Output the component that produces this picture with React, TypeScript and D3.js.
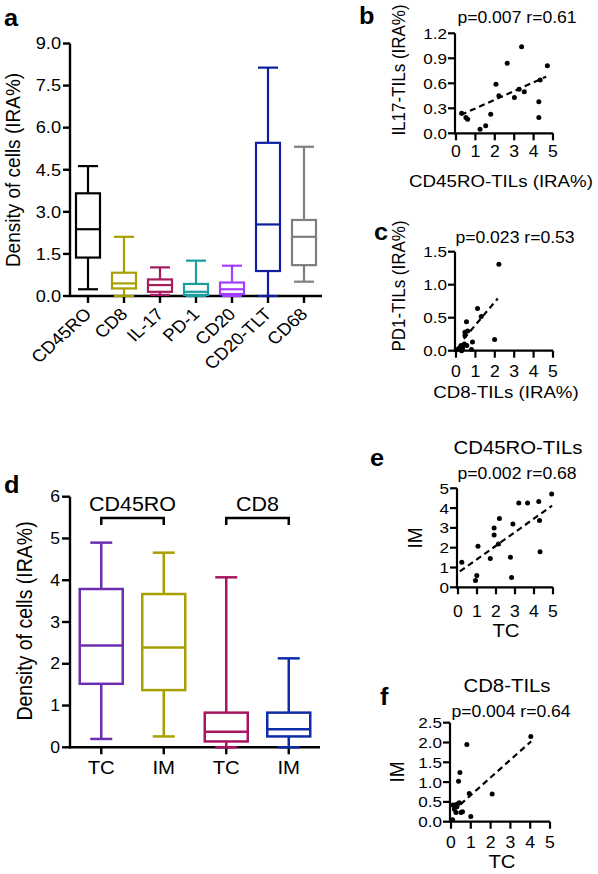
import React from "react";
import * as d3 from "d3";

const FONT = "'Liberation Sans', Arial, Helvetica, sans-serif";
const SX = 1.1;

// ---------- Panel a data ----------
const catsA = ["CD45RO", "CD8", "IL-17", "PD-1", "CD20", "CD20-TLT", "CD68"];
const minA = [0.24, 0, 0.04, 0, 0, 0, 0.51];
const q1A = [1.37, 0.27, 0.15, 0.04, 0.07, 0.89, 1.1];
const medA = [2.38, 0.45, 0.39, 0.15, 0.24, 2.55, 2.11];
const q3A = [3.66, 0.83, 0.59, 0.43, 0.48, 5.46, 2.71];
const maxA = [4.63, 2.11, 1.02, 1.26, 1.08, 8.14, 5.32];
const colorsA = ["#000000", "#a8a000", "#a51c5c", "#1c9e9e", "#a23cff", "#0d1f9e", "#7f7f7f"];
const yTicksA = [0, 1.5, 3, 4.5, 6, 7.5, 9];

// ---------- Panel d data ----------
const catsD = ["TC1", "IM1", "TC2", "IM2"];
const labelsD = ["TC", "IM", "TC", "IM"];
const minD = [0.2, 0.26, 0, 0];
const q1D = [1.52, 1.37, 0.14, 0.26];
const medD = [2.44, 2.39, 0.37, 0.43];
const q3D = [3.79, 3.67, 0.83, 0.83];
const maxD = [4.9, 4.66, 4.07, 2.13];
const colorsD = ["#6b2fb0", "#a8a000", "#a8175e", "#0f2ca8"];
const yTicksD = [0, 1, 2, 3, 4, 5, 6];
const groupsD = ["CD45RO", "CD8"];

// ---------- Scatter data ----------
const xTicksS = [0, 1, 2, 3, 4, 5];

const bX = [0.29, 0.51, 0.6, 1.24, 1.53, 1.79, 2.06, 2.21, 2.64, 3.01, 3.25, 3.38, 3.52, 4.27, 4.27, 4.34, 4.71];
const bY = [0.24, 0.19, 0.17, 0.05, 0.09, 0.23, 0.59, 0.45, 0.84, 0.43, 0.53, 1.04, 0.5, 0.38, 0.19, 0.64, 0.81];
const bTrend = [0.25, 0.22, 4.65, 0.68];
const bYTicks = [0, 0.3, 0.6, 0.9, 1.2];

const cX = [2.21, 1.11, 1.99, 0.54, 1.3, 0.46, 0.46, 0.85, 0.8, 0.26, 0.17, 0.34, 0.08, 0.43, 0.56, 0.29, 0.6];
const cY = [1.31, 0.64, 0.17, 0.44, 0.52, 0.28, 0.23, 0.13, 0.02, 0.08, 0.04, 0.04, 0.02, 0.1, 0.08, 0.0, 0.3];
const cTrend = [0.4, 0.18, 2.15, 0.79];
const cYTicks = [0, 0.5, 1.0, 1.5];

const eX = [0.2, 0.92, 0.99, 1.05, 1.7, 1.9, 1.9, 2.13, 2.18, 2.76, 2.82, 2.89, 3.2, 3.66, 4.25, 4.29, 4.32, 4.93];
const eY = [1.26, 0.34, 0.59, 2.07, 1.46, 3.0, 2.64, 2.19, 3.48, 1.52, 0.5, 3.2, 4.26, 4.26, 4.33, 3.37, 1.8, 4.71];
const eTrend = [0.1, 0.8, 4.95, 4.12];
const eYTicks = [0, 1, 2, 3, 4, 5];

const fX = [4.03, 0.8, 0.45, 0.38, 0.92, 2.08, 1.0, 0.08, 0.25, 0.33, 0.42, 0.17, 0.25, 0.5, 0.58, 0.17, 0.1, 0.3];
const fY = [2.15, 1.95, 1.24, 1.02, 0.71, 0.7, 0.13, 0.05, 0.43, 0.45, 0.48, 0.32, 0.23, 0.23, 0.25, 0.38, 0.42, 0.38];
const fTrend = [0.1, 0.27, 4.05, 2.03];
const fYTicks = [0, 0.5, 1.0, 1.5, 2.0, 2.5];

function Txt({ x, y, size, anchor = "middle", rot = 0, bold = false, fill = "#000", mid = false, children }: any) {
  return (
    <text
      transform={`translate(${x},${y}) scale(${SX},1) rotate(${rot})`}
      fontSize={size}
      textAnchor={anchor}
      fontWeight={bold ? "bold" : "normal"}
      fill={fill}
      dy={mid ? "0.35em" : undefined}
      fontFamily={FONT}
    >
      {children}
    </text>
  );
}

function Boxes({ cats, mins, q1s, meds, q3s, maxs, colors, x, y, bw, cw, sw }: any) {
  return (
    <g>
      {cats.map((c: string, i: number) => {
        const cx = x(c) + x.bandwidth() / 2;
        return (
          <g key={c} stroke={colors[i]} strokeWidth={sw} fill="#fff">
            <line x1={cx} x2={cx} y1={y(maxs[i])} y2={y(mins[i])} />
            <line x1={cx - cw / 2} x2={cx + cw / 2} y1={y(maxs[i])} y2={y(maxs[i])} />
            <line x1={cx - cw / 2} x2={cx + cw / 2} y1={y(mins[i])} y2={y(mins[i])} />
            <rect x={cx - bw / 2} y={y(q3s[i])} width={bw} height={y(q1s[i]) - y(q3s[i])} />
            <line x1={cx - bw / 2} x2={cx + bw / 2} y1={y(meds[i])} y2={y(meds[i])} />
          </g>
        );
      })}
    </g>
  );
}

function PanelA() {
  const x = d3.scaleBand().domain(catsA).range([70, 322]);
  const y = d3.scaleLinear().domain([0, 9]).range([296, 43.5]);
  const fmt = d3.format(".1f");
  return (
    <g>
      <Txt x={4} y={26} size={23} anchor="start" bold>a</Txt>
      <g stroke="#000" strokeWidth={2.4}>
        <line x1={70} x2={70} y1={y(0) + 1} y2={y(9)} />
        <line x1={69} x2={322} y1={y(0)} y2={y(0)} />
        {yTicksA.map((t) => (
          <line key={t} x1={63} x2={70} y1={y(t)} y2={y(t)} />
        ))}
        {catsA.map((c) => (
          <line key={c} x1={x(c)! + x.bandwidth() / 2} x2={x(c)! + x.bandwidth() / 2} y1={y(0)} y2={y(0) + 7} />
        ))}
      </g>
      {yTicksA.map((t) => (
        <Txt key={t} x={61} y={y(t)} size={16.5} anchor="end" mid>{fmt(t)}</Txt>
      ))}
      {catsA.map((c) => (
        <Txt key={c} x={x(c)! + x.bandwidth() / 2} y={311} size={17} anchor="end" rot={-45} mid>{c}</Txt>
      ))}
      <Txt x={20} y={170} size={19} rot={-90}>Density of cells (IRA%)</Txt>
      <Boxes cats={catsA} mins={minA} q1s={q1A} meds={medA} q3s={q3A} maxs={maxA} colors={colorsA} x={x} y={y} bw={24} cw={20} sw={2.2} />
    </g>
  );
}

function PanelD() {
  const x = d3.scaleBand().domain(catsD).range([70, 320]);
  const y = d3.scaleLinear().domain([0, 6]).range([747.3, 496.7]);
  const cx = (c: string) => x(c)! + x.bandwidth() / 2;
  const pairs = [["TC1", "IM1"], ["TC2", "IM2"]];
  return (
    <g>
      <Txt x={4} y={493} size={23} anchor="start" bold>d</Txt>
      <g stroke="#000" strokeWidth={2.4}>
        <line x1={70} x2={70} y1={y(0) + 1} y2={y(6)} />
        <line x1={69} x2={320} y1={y(0)} y2={y(0)} />
        {yTicksD.map((t) => (
          <line key={t} x1={62} x2={70} y1={y(t)} y2={y(t)} />
        ))}
        {catsD.map((c) => (
          <line key={c} x1={cx(c)} x2={cx(c)} y1={y(0)} y2={y(0) + 7} />
        ))}
      </g>
      {yTicksD.map((t) => (
        <Txt key={t} x={60} y={y(t)} size={16} anchor="end" mid>{String(t)}</Txt>
      ))}
      {catsD.map((c, i) => (
        <Txt key={c} x={cx(c)} y={774} size={18.5}>{labelsD[i]}</Txt>
      ))}
      <Txt x={32} y={621} size={19.5} rot={-90}>Density of cells (IRA%)</Txt>
      {pairs.map((p, i) => {
        const x1 = cx(p[0]);
        const x2 = cx(p[1]);
        return (
          <g key={i}>
            <path d={`M${x1},525V518H${x2}V525`} fill="none" stroke="#000" strokeWidth={2.5} />
            <Txt x={(x1 + x2) / 2} y={511} size={19.5}>{groupsD[i]}</Txt>
          </g>
        );
      })}
      <Boxes cats={catsD} mins={minD} q1s={q1D} meds={medD} q3s={q3D} maxs={maxD} colors={colorsD} x={x} y={y} bw={43} cw={22} sw={2.5} />
    </g>
  );
}

function Scatter(p: any) {
  const x = d3.scaleLinear().domain([0, 5]).range(p.xr);
  const y = d3.scaleLinear().domain([0, p.yMax]).range(p.yr);
  const fmt = p.fmt ? d3.format(p.fmt) : (v: number) => String(v);
  const x0 = p.xr[0] - 1;
  return (
    <g>
      <Txt x={p.letterX} y={p.letterY} size={23} anchor="start" bold>{p.letter}</Txt>
      <g stroke="#000" strokeWidth={2.2}>
        <line x1={x0} x2={x0} y1={y(0) + 1} y2={y(p.yMax)} />
        <line x1={x0 - 1} x2={x(5)} y1={y(0)} y2={y(0)} />
        {p.yTicks.map((t: number) => (
          <line key={t} x1={x0 - 7} x2={x0} y1={y(t)} y2={y(t)} />
        ))}
        {xTicksS.map((t) => (
          <line key={t} x1={x(t)} x2={x(t)} y1={y(0)} y2={y(0) + 7} />
        ))}
      </g>
      {p.yTicks.map((t: number) => (
        <Txt key={t} x={x0 - 8} y={y(t)} size={15.5} anchor="end" mid>{fmt(t)}</Txt>
      ))}
      {xTicksS.map((t) => (
        <Txt key={t} x={x(t)} y={p.xTickBase} size={16}>{String(t)}</Txt>
      ))}
      {p.title1 && <Txt x={p.title1X} y={p.title1Y} size={18.5}>{p.title1}</Txt>}
      <Txt x={p.title2X} y={p.title2Y} size={16}>{p.title2}</Txt>
      <Txt x={p.xLabelX} y={p.xLabelY} size={p.xLabelSize || 17}>{p.xLabel}</Txt>
      <Txt x={p.yLabelX} y={p.yLabelY} size={p.yLabelSize || 17} rot={-90}>{p.yLabel}</Txt>
      <line
        x1={x(p.trend[0])}
        y1={y(p.trend[1])}
        x2={x(p.trend[2])}
        y2={y(p.trend[3])}
        stroke="#000"
        strokeWidth={2.2}
        strokeDasharray="6,4"
      />
      {p.xs.map((v: number, i: number) => (
        <circle key={i} cx={x(v)} cy={y(p.ys[i])} r={2.5} fill="#000" />
      ))}
    </g>
  );
}

export default function App() {
  return (
    <svg width={598} height={874} style={{ position: "absolute", left: 0, top: 0, background: "#fff" }} fontFamily={FONT}>
      <rect width={598} height={874} fill="#fff" />
      <PanelA />
      <PanelD />
      <Scatter
        letter="b" letterX={359} letterY={24}
        xr={[456, 553]} yr={[133.3, 33.3]} yMax={1.2} yTicks={bYTicks} fmt=".1f"
        xs={bX} ys={bY} trend={bTrend} xTickBase={157}
        title2="p=0.007 r=0.61" title2X={517} title2Y={23}
        xLabel="CD45RO-TILs (IRA%)" xLabelX={501} xLabelY={187}
        yLabel="IL17-TILs (IRA%)" yLabelX={405} yLabelY={70}
      />
      <Scatter
        letter="c" letterX={374} letterY={240}
        xr={[456, 553]} yr={[350.7, 251.7]} yMax={1.5} yTicks={cYTicks} fmt=".1f"
        xs={cX} ys={cY} trend={cTrend} xTickBase={377}
        title2="p=0.023 r=0.53" title2X={515} title2Y={243}
        xLabel="CD8-TILs (IRA%)" xLabelX={506} xLabelY={398}
        yLabel="PD1-TILs (IRA%)" yLabelX={405} yLabelY={286}
      />
      <Scatter
        letter="e" letterX={370} letterY={466}
        xr={[458, 553]} yr={[587.3, 488.3]} yMax={5} yTicks={eYTicks}
        xs={eX} ys={eY} trend={eTrend} xTickBase={617}
        title1="CD45RO-TILs" title1X={518} title1Y={454}
        title2="p=0.002 r=0.68" title2X={517} title2Y={479}
        xLabel="TC" xLabelX={506} xLabelY={637} xLabelSize={18.5}
        yLabel="IM" yLabelX={422} yLabelY={538} yLabelSize={19}
      />
      <Scatter
        letter="f" letterX={380} letterY={705}
        xr={[451, 550]} yr={[821.7, 722.7]} yMax={2.5} yTicks={fYTicks} fmt=".1f"
        xs={fX} ys={fY} trend={fTrend} xTickBase={848}
        title1="CD8-TILs" title1X={507} title1Y={692}
        title2="p=0.004 r=0.64" title2X={511} title2Y={717}
        xLabel="TC" xLabelX={502} xLabelY={868} xLabelSize={18.5}
        yLabel="IM" yLabelX={404} yLabelY={772} yLabelSize={19}
      />
    </svg>
  );
}
